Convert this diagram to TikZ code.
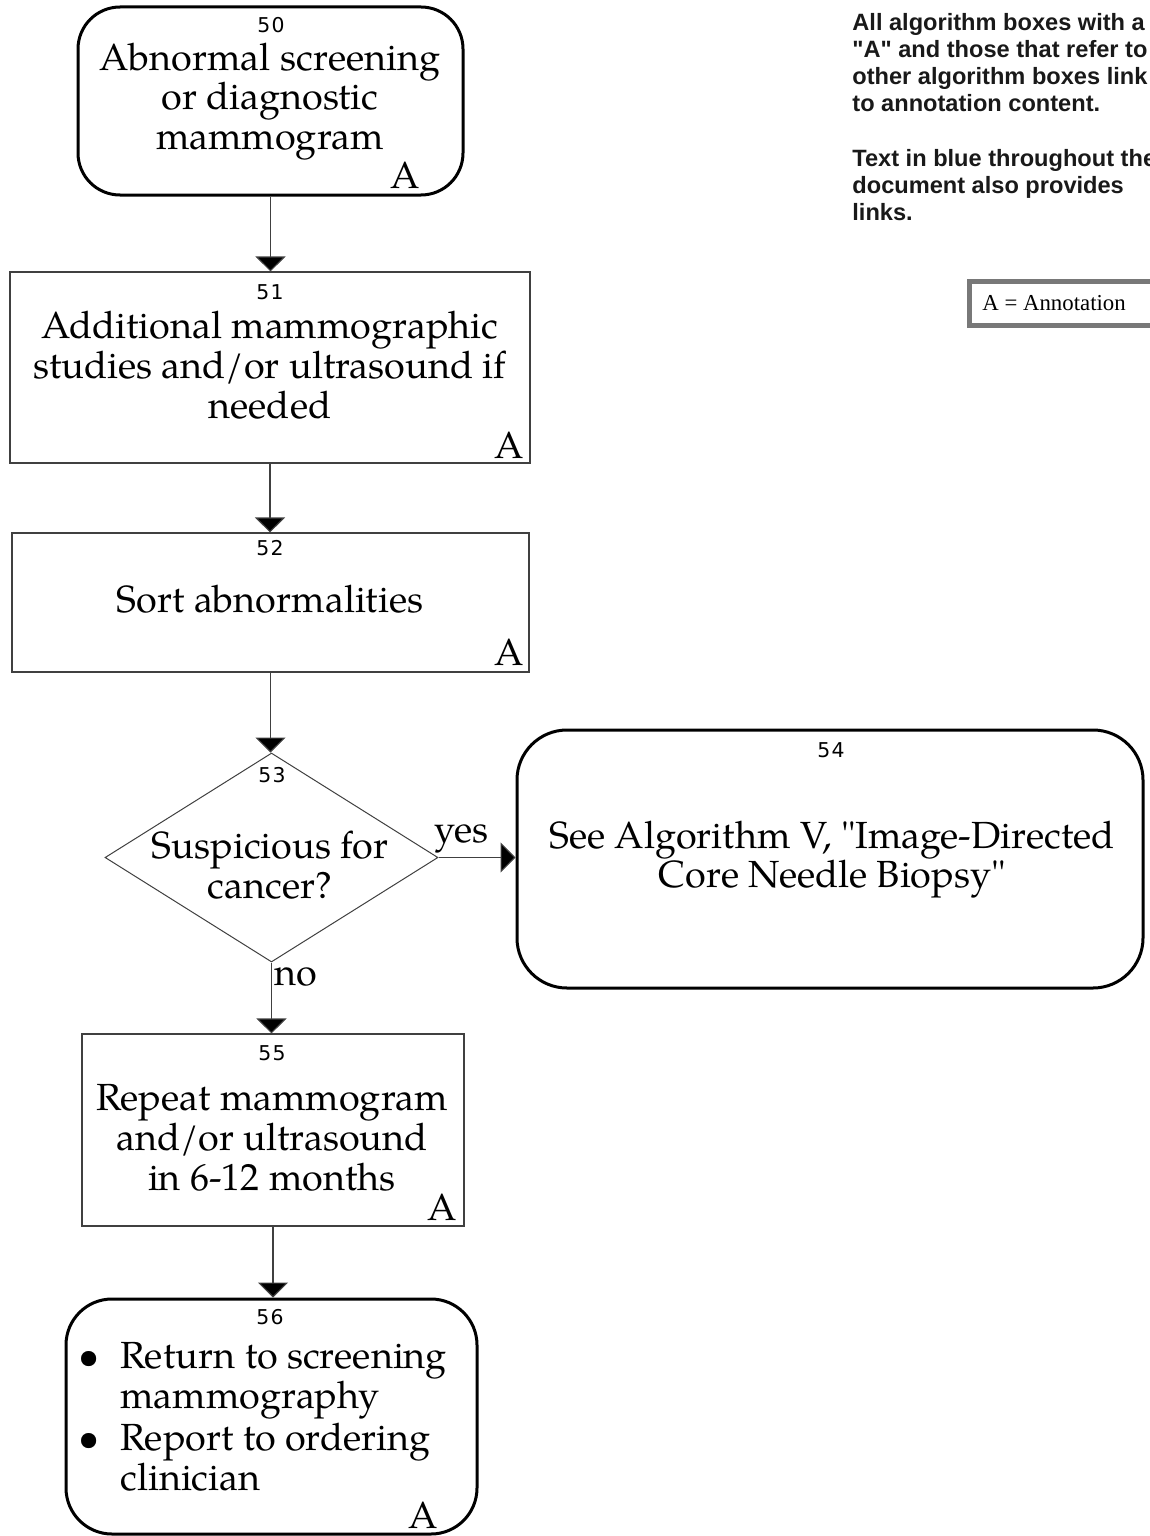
\documentclass[tikz,border=0pt]{standalone}
\usepackage{fontspec}
\usetikzlibrary{arrows.meta,shapes.geometric}
% Palatino-like body text
\newfontfamily\palfont{texgyrepagella-regular.otf}
\newfontfamily\numfont{DejaVu Sans}[LetterSpace=6]
\newfontfamily\notefont{Liberation Sans}
\newfontfamily\legendfont{Liberation Serif}
\definecolor{thinline}{gray}{0.25}
\definecolor{legendgray}{gray}{0.47}
\tikzset{
  roundbox/.style={draw=black, line width=1.5pt, rounded corners=21pt, inner sep=0pt, fill=white},
  plainbox/.style={draw=thinline, line width=0.55pt, inner sep=0pt, fill=white},
  decision/.style={diamond, draw=thinline, line width=0.5pt, inner sep=0pt, fill=white},
  link/.style={draw=thinline, line width=0.55pt, -{Triangle[length=7.5pt,width=15pt,fill=black]}},
  body/.style={font=\palfont\fontsize{18.9}{20}\selectfont, inner sep=0pt, anchor=base},
  bodyleft/.style={body, anchor=base west},
  amark/.style={body, anchor=base east},
  num/.style={font=\numfont\fontsize{10.2}{12}\selectfont, inner sep=0pt},
  note/.style={font=\notefont\bfseries\fontsize{11.8}{13.5}\selectfont, inner sep=0pt, anchor=base west, text=black!90},
  legendbox/.style={draw=legendgray, line width=2.5pt, inner sep=0pt},
  legendtext/.style={font=\legendfont\fontsize{11.4}{13}\selectfont, inner sep=0pt, anchor=base west},
}
\begin{document}
\begin{tikzpicture}[x=0.5pt, y=-0.5pt]
\useasboundingbox (0,0) rectangle (1150,1536);
\clip (0,0) rectangle (1150,1536);

% ---- boxes ----
\node[roundbox, minimum width=192.5pt, minimum height=94pt] (b50) at (270.5,101) {};
\node[plainbox, minimum width=260pt, minimum height=95.5pt] (b51) at (270,367.5) {};
\node[plainbox, minimum width=258.5pt, minimum height=69.5pt] (b52) at (270.5,602.5) {};
\node[decision, minimum width=166.5pt, minimum height=104.5pt] (d53) at (271.5,857.5) {};
\node[roundbox, rounded corners=25pt, minimum width=313pt, minimum height=129pt] (b54) at (830,859) {};
\node[plainbox, minimum width=191pt, minimum height=96pt] (b55) at (273,1130) {};
\node[roundbox, rounded corners=23pt, minimum width=205.5pt, minimum height=117.5pt] (b56) at (271.5,1416.5) {};

% ---- connectors ----
\draw[link] (b50.south) -- (b50.south |- b51.north);
\draw[link] (b51.south) -- (b51.south |- b52.north);
\draw[link] (b52.south) -- (b52.south |- d53.north);
\draw[link] (d53.east) -- (d53.east -| b54.west);
\draw[link] (d53.south) -- (d53.south |- b55.north);
\draw[link] (b55.south) -- (b55.south |- b56.north);

% ---- box 50 ----
\node[num] (n50) at (271,25) {50};
\node[body] (t50a) at (270,71) {Abnormal screening};
\node[body] (t50b) at (270,110) {or diagnostic};
\node[body] (t50c) at (270,149) {mammogram};
\node[amark] (a50) at (420,188) {A};

% ---- box 51 ----
\node[num] (n51) at (270,292) {51};
\node[body] (t51a) at (270,338) {Additional mammographic};
\node[body] (t51b) at (270,378) {studies and/or ultrasound if};
\node[body] (t51c) at (270,418) {needed};
\node[amark] (a51) at (524,458) {A};

% ---- box 52 ----
\node[num] (n52) at (270,548) {52};
\node[body] (t52a) at (270,612) {Sort abnormalities};
\node[amark] (a52) at (524,665) {A};

% ---- decision 53 ----
\node[num] (n53) at (272,775) {53};
\node[body] (t53a) at (270,858) {Suspicious for};
\node[body] (t53b) at (270,898) {cancer?};
\node[body] (yes) at (461.5,842) {yes};
\node[body] (no) at (296,985) {no};

% ---- box 54 ----
\node[num] (n54) at (831,750) {54};
\node[body] (t54a) at (832,848) {See Algorithm V, "Image-Directed};
\node[body] (t54b) at (832,887) {Core Needle Biopsy"};

% ---- box 55 ----
\node[num] (n55) at (272,1053) {55};
\node[body] (t55a) at (272,1110) {Repeat mammogram};
\node[body] (t55b) at (272,1150) {and/or ultrasound};
\node[body] (t55c) at (272,1190) {in 6-12 months};
\node[amark] (a55) at (457,1220) {A};

% ---- box 56 ----
\node[num] (n56) at (270,1317) {56};
\node[body] (bu1) at (89,1368) {•};
\node[bodyleft] (t56a) at (120,1368) {Return to screening};
\node[bodyleft] (t56b) at (120,1408) {mammography};
\node[body] (bu2) at (89,1450) {•};
\node[bodyleft] (t56c) at (120,1450) {Report to ordering};
\node[bodyleft] (t56d) at (120,1490) {clinician};
\node[amark] (a56) at (438,1528) {A};

% ---- notes ----
\node[note] (m1) at (852,31) {All algorithm boxes with a};
\node[note] (m2) at (852,58) {"A" and those that refer to};
\node[note] (m3) at (852,85) {other algorithm boxes link};
\node[note] (m4) at (852,112) {to annotation content.};
\node[note] (m5) at (852,166) {Text in blue throughout the};
\node[note] (m6) at (852,193) {document also provides};
\node[note] (m7) at (852,220) {links.};

% ---- legend ----
\node[legendbox, minimum width=105pt, minimum height=22pt] (legend) at (1074.5,303) {};
\node[legendtext] (legendlabel) at (982,310) {A = Annotation};
\end{tikzpicture}
\end{document}
